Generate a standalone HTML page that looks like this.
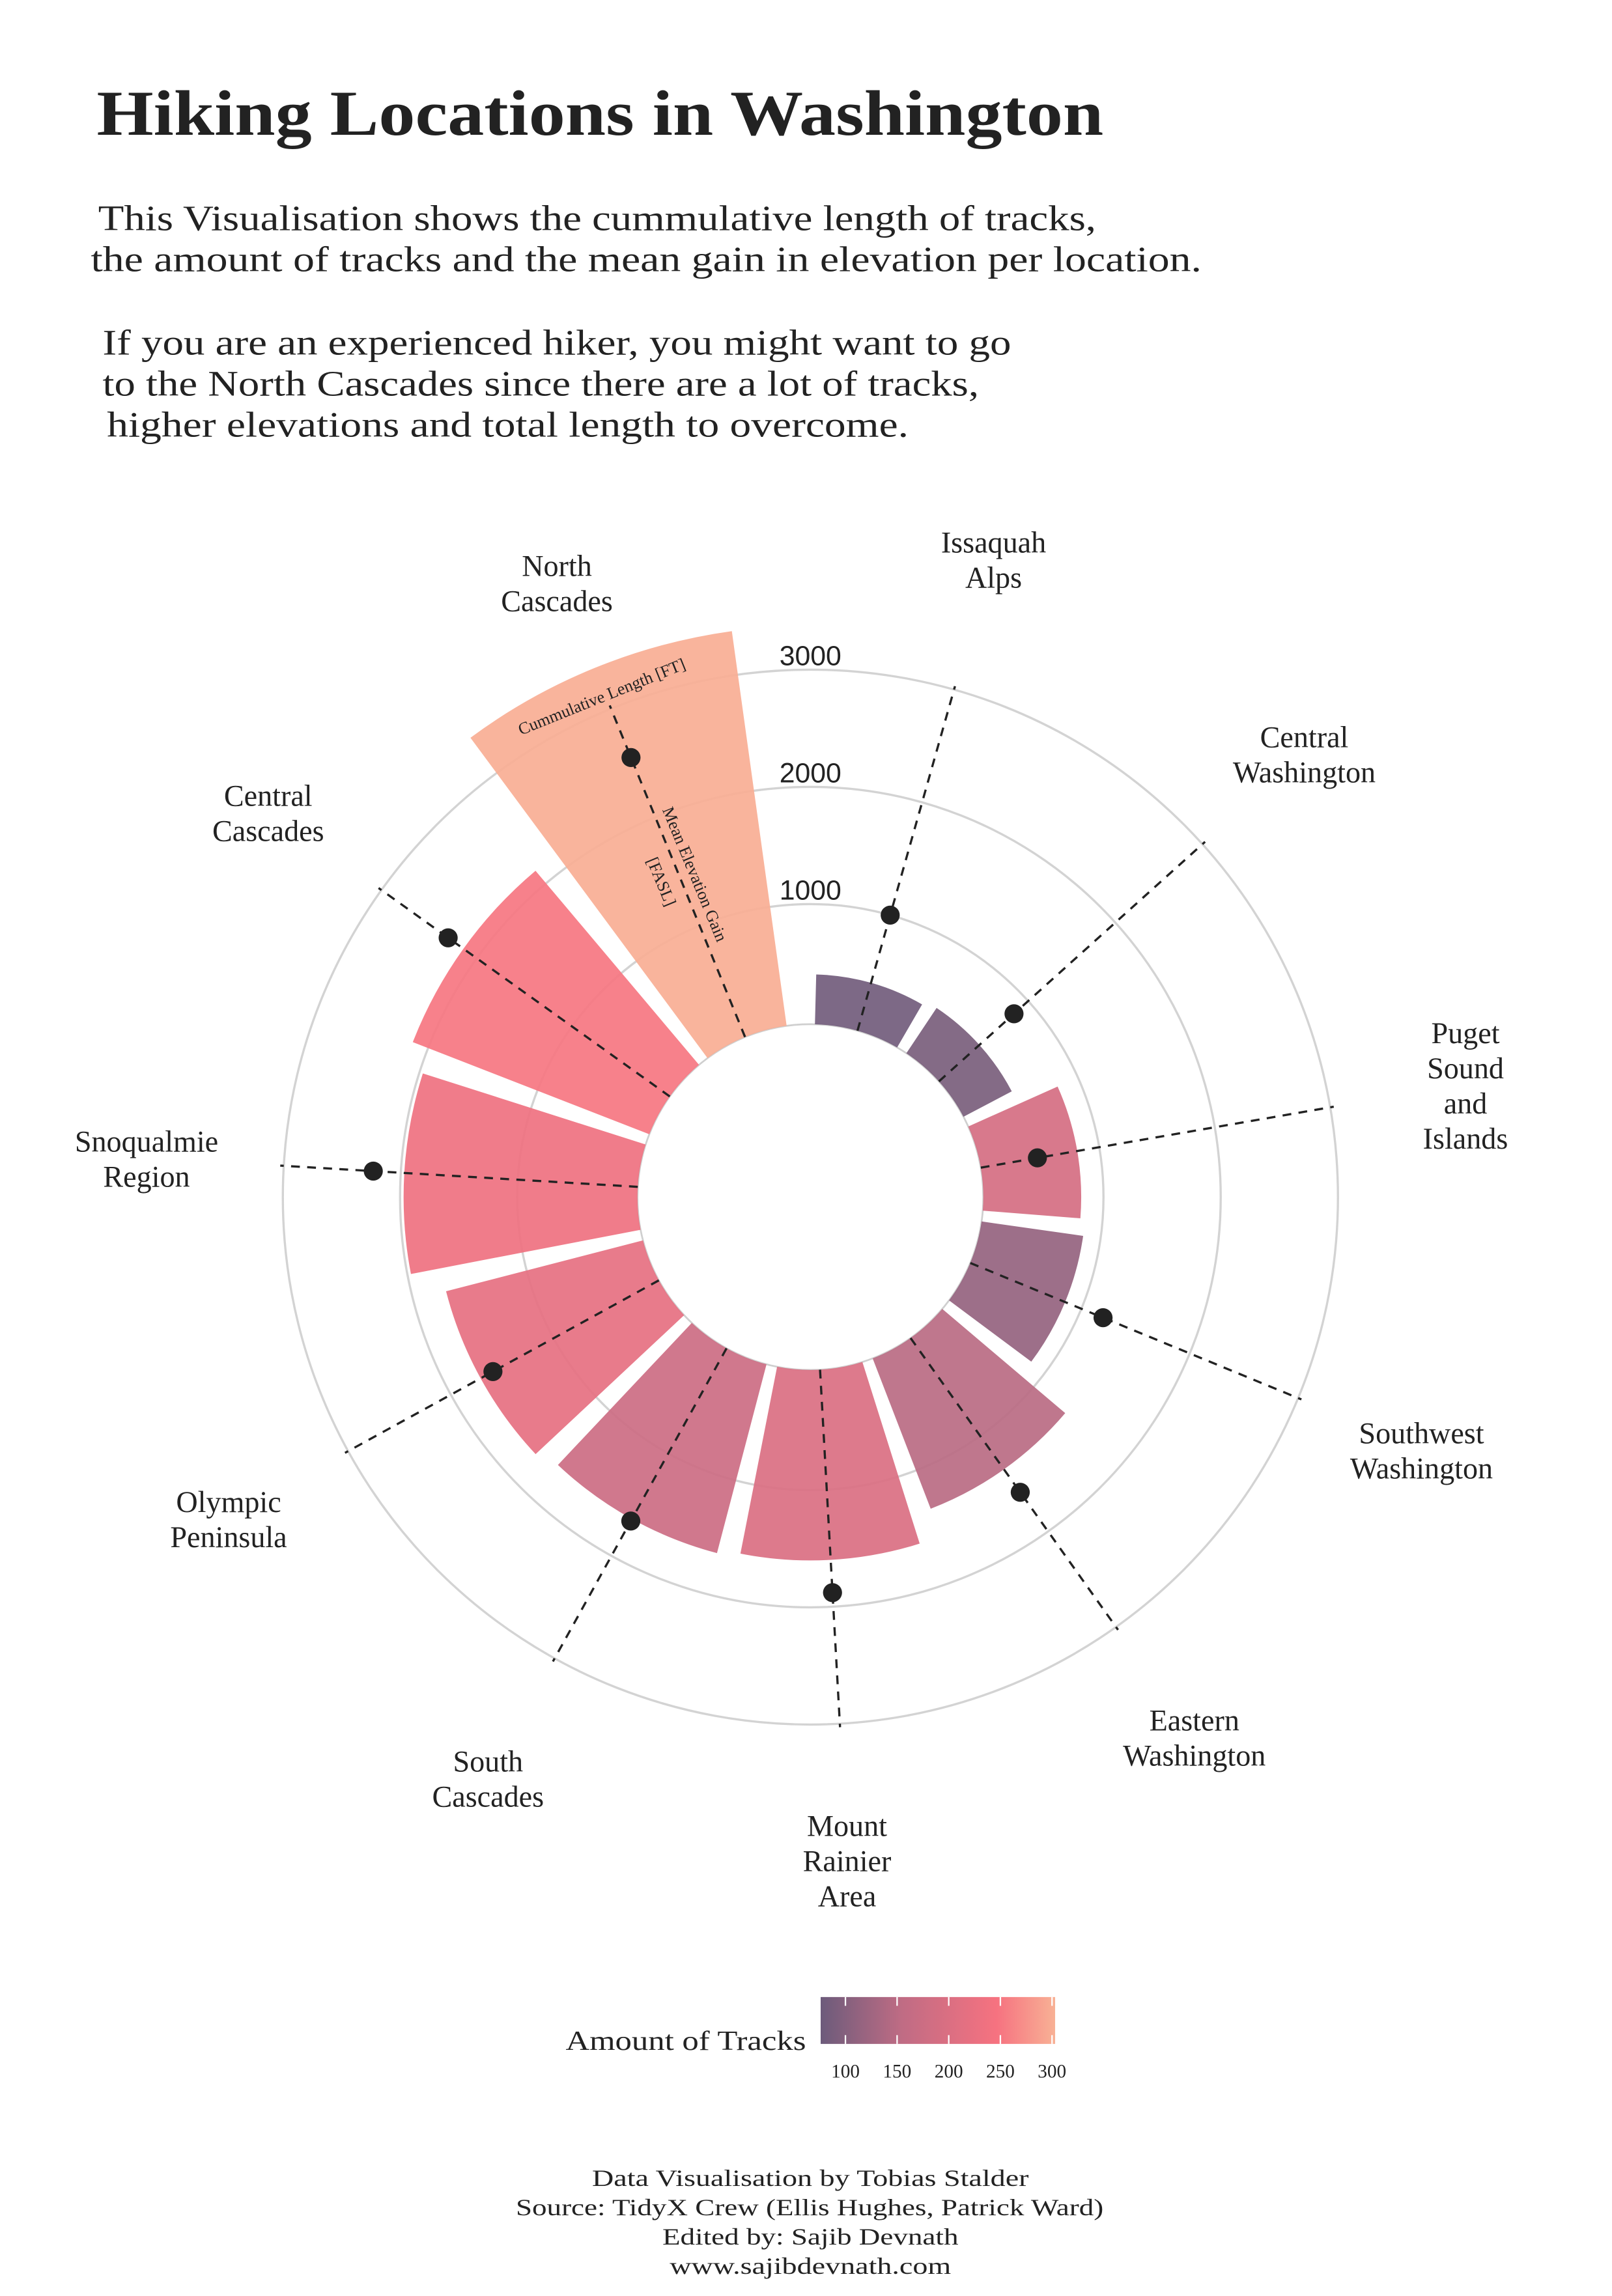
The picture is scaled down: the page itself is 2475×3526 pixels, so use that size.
<!DOCTYPE html>
<html><head><meta charset="utf-8"><style>
html,body{margin:0;padding:0;background:#fff}
svg{display:block}
text{font-family:"Liberation Serif",serif;fill:#222}
</style></head><body>
<svg id="chart" width="2475" height="3526" viewBox="0 0 1100 1567" xmlns="http://www.w3.org/2000/svg">
<defs>
<linearGradient id="grad" x1="0" x2="1" y1="0" y2="0">
<stop offset="0" stop-color="#6C5B7B"/><stop offset="0.35" stop-color="#C06C84"/><stop offset="0.75" stop-color="#F67280"/><stop offset="1" stop-color="#F8B195"/>
</linearGradient>
</defs>
<text x="66" y="92" font-size="44" font-weight="bold" textLength="687" lengthAdjust="spacingAndGlyphs">Hiking Locations in Washington</text>
<g font-size="24.5">
<text x="67" y="157" textLength="681" lengthAdjust="spacingAndGlyphs">This Visualisation shows the cummulative length of tracks,</text>
<text x="62" y="185" textLength="758" lengthAdjust="spacingAndGlyphs">the amount of tracks and the mean gain in elevation per location.</text>
<text x="70" y="242" textLength="620" lengthAdjust="spacingAndGlyphs">If you are an experienced hiker, you might want to go</text>
<text x="70" y="270" textLength="598" lengthAdjust="spacingAndGlyphs">to the North Cascades since there are a lot of tracks,</text>
<text x="73" y="298" textLength="547" lengthAdjust="spacingAndGlyphs">higher elevations and total length to overcome.</text>
</g>
<g id="plot"></g>
<g>
<text x="386" y="1399" font-size="19" textLength="164" lengthAdjust="spacingAndGlyphs">Amount of Tracks</text>
<rect x="560" y="1363" width="160" height="32" fill="url(#grad)"/>
<g id="cbticks"></g>
</g>
<g font-size="16">
<text x="404" y="1492" textLength="298" lengthAdjust="spacingAndGlyphs">Data Visualisation by Tobias Stalder</text>
<text x="352" y="1512" textLength="401" lengthAdjust="spacingAndGlyphs">Source: TidyX Crew (Ellis Hughes, Patrick Ward)</text>
<text x="452" y="1532" textLength="202" lengthAdjust="spacingAndGlyphs">Edited by: Sajib Devnath</text>
<text x="457" y="1552" textLength="192" lengthAdjust="spacingAndGlyphs">www.sajibdevnath.com</text>
</g>
</svg>
<script>
const categories = ["Issaquah Alps","Central Washington","Puget Sound and Islands","Southwest Washington","Eastern Washington","Mount Rainier Area","South Cascades","Olympic Peninsula","Snoqualmie Region","Central Cascades","North Cascades"];
const cumLength = [400, 440, 810, 850, 1350, 1600, 1640, 1710, 1970, 2140, 3375];
const meanGain = [1000, 837, 465, 1200, 1590, 1880, 1660, 1590, 2235, 2300, 2550];
const tracks = [82, 88, 190, 115, 150, 200, 175, 220, 235, 250, 300];
const gridTicks = [1000, 2000, 3000];
const cbTicks = [100, 150, 200, 250, 300];

const NS = "http://www.w3.org/2000/svg";
const cx = 553, cy = 817;
const r = v => 120 + 0.08 * v;
const rOuter = r(3030);
const step = 32.2;
const ang = i => (15.8 + step * i) * Math.PI / 180;
const pt = (a, rad) => [cx + rad * Math.sin(a), cy - rad * Math.cos(a)];
const cmin = 76, cmax = 303;
const stops = [[0,[0x6C,0x5B,0x7B]],[0.35,[0xC0,0x6C,0x84]],[0.75,[0xF6,0x72,0x80]],[1,[0xF8,0xB1,0x95]]];
function color(v){
  let t = Math.max(0, Math.min(1, (v - cmin) / (cmax - cmin)));
  for (let k = 1; k < stops.length; k++) {
    if (t <= stops[k][0]) {
      const [t0, c0] = stops[k-1], [t1, c1] = stops[k];
      const f = (t - t0) / (t1 - t0);
      return "rgb(" + c0.map((c, j) => Math.round(c + (c1[j] - c) * f)).join(",") + ")";
    }
  }
  return "rgb(248,177,149)";
}
const plot = document.getElementById("plot");
function mk(tag, attrs, parent){
  const e = document.createElementNS(NS, tag);
  for (const k in attrs) e.setAttribute(k, attrs[k]);
  (parent || plot).appendChild(e);
  return e;
}
gridTicks.forEach(t => {
  const c = mk("circle", {cx, cy, r: r(t), fill: "none", stroke: "#d3d3d3", "stroke-width": 1.5});
  
  
});
const ic = mk("circle", {cx, cy, r: 118, fill: "none", stroke: "#cfcfcf", "stroke-width": 1.2});


const halfW = 14.3 * Math.PI / 180;
categories.forEach((c, i) => {
  const a = ang(i), R = r(cumLength[i]), r0 = 118;
  const [x1, y1] = pt(a - halfW, r0), [x2, y2] = pt(a - halfW, R), [x3, y3] = pt(a + halfW, R), [x4, y4] = pt(a + halfW, r0);
  const p = mk("path", {d: `M${x1},${y1}L${x2},${y2}A${R},${R} 0 0 1 ${x3},${y3}L${x4},${y4}A${r0},${r0} 0 0 0 ${x1},${y1}Z`, fill: color(tracks[i]), "fill-opacity": 0.92});
  
  
});
categories.forEach((c, i) => {
  const a = ang(i);
  const [x1, y1] = pt(a, 118), [x2, y2] = pt(a, rOuter);
  const l = mk("line", {x1, y1, x2, y2, stroke: "#222", "stroke-width": 1.5, "stroke-dasharray": "6 5"});
  
  
  const [dx, dy] = pt(a, r(meanGain[i]));
  const d = mk("circle", {cx: dx, cy: dy, r: 6.5, fill: "#222"});
  
  
});
gridTicks.forEach(t => {
  const tx = mk("text", {x: 553, y: cy - r(t) - 3, "font-size": 19, style: "font-family:'Liberation Sans',sans-serif", "text-anchor": "middle"});
  tx.textContent = t;
  
  
});
const labelPos = [[678,377,["Issaquah","Alps"]],[890,510,["Central","Washington"]],[1000,712,["Puget","Sound","and","Islands"]],[970,985,["Southwest","Washington"]],[815,1181,["Eastern","Washington"]],[578,1253,["Mount","Rainier","Area"]],[333,1209,["South","Cascades"]],[156,1032,["Olympic","Peninsula"]],[100,786,["Snoqualmie","Region"]],[183,550,["Central","Cascades"]],[380,393,["North","Cascades"]]];
labelPos.forEach(([x, y, lines]) => {
  const t = mk("text", {x, y, "font-size": 20.5, "text-anchor": "middle"});
  
  
  lines.forEach((ln, k) => { const s = mk("tspan", {x, y: y + k * 24}, t); s.textContent = ln; });
});
const a1 = mk("text", {x: 0, y: 0, "font-size": 11.5, "text-anchor": "middle", transform: "translate(412,479) rotate(-22)"});
a1.textContent = "Cummulative Length [FT]";


const a2 = mk("text", {x: 0, y: 0, "font-size": 11.5, "text-anchor": "middle", transform: "translate(466,600) rotate(67.5)"});


const s1 = mk("tspan", {x: 0, y: -5}, a2); s1.textContent = "Mean Elevation Gain";
const s2 = mk("tspan", {x: -4, y: 18}, a2); s2.textContent = "[FASL]";
const cb = document.getElementById("cbticks");
const cbx = v => 560 + (v - cmin) / (cmax - cmin) * 160;
cbTicks.forEach(v => {
  const x = cbx(v);
  mk("line", {x1: x, x2: x, y1: 1363, y2: 1369, stroke: "#fff", "stroke-width": 1}, cb);
  mk("line", {x1: x, x2: x, y1: 1389, y2: 1395, stroke: "#fff", "stroke-width": 1}, cb);
  const t = mk("text", {x, y: 1418, "font-size": 13, "text-anchor": "middle"}, cb);
  t.textContent = v;
  
  
});
</script>
</body></html>
